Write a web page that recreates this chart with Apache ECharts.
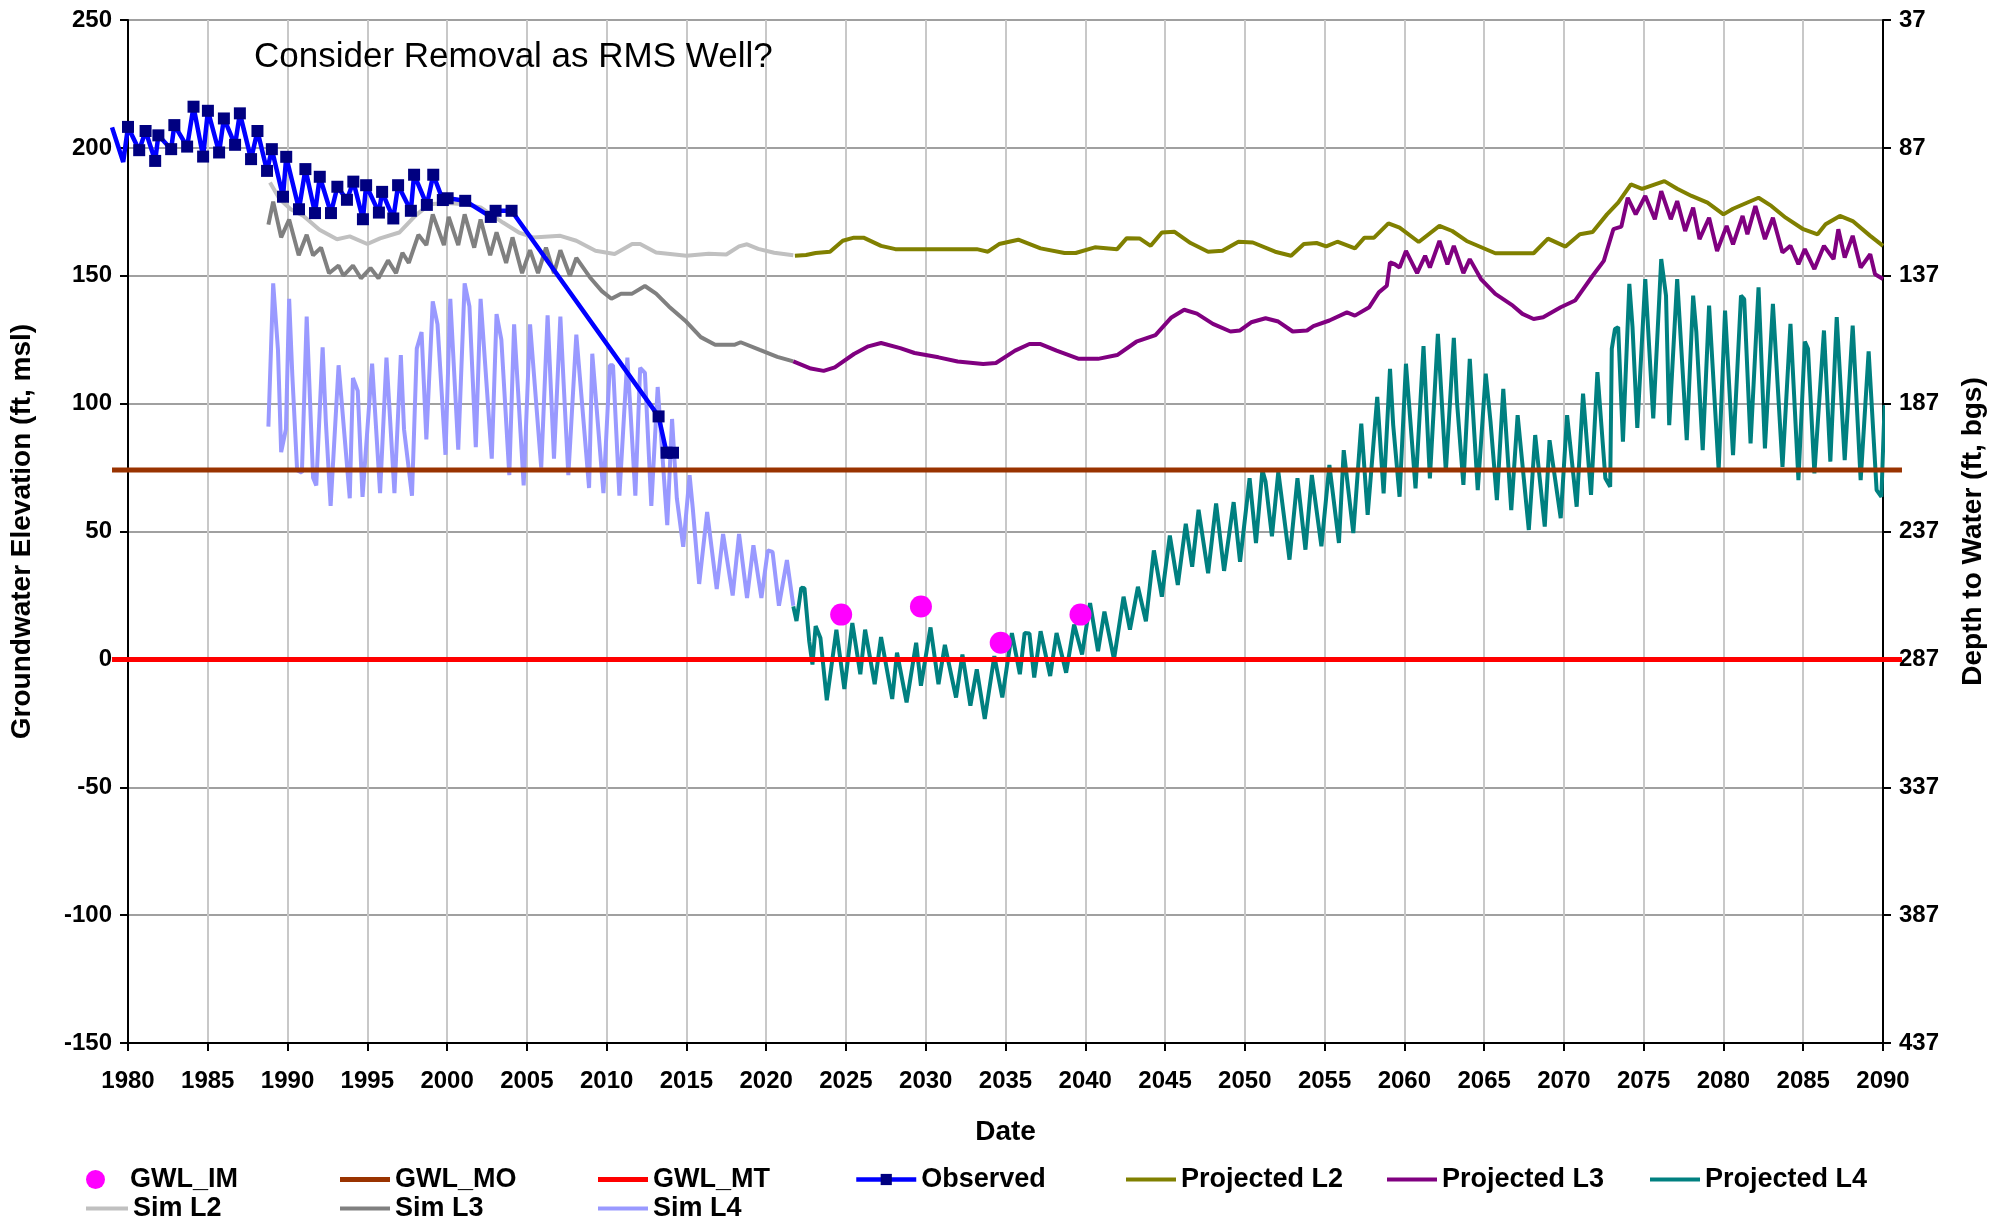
<!DOCTYPE html>
<html>
<head>
<meta charset="utf-8">
<title>Consider Removal as RMS Well?</title>
<script src="https://cdn.jsdelivr.net/npm/echarts@6/dist/echarts.min.js"></script>
<style>
  html, body { margin: 0; padding: 0; background: #fff; }
  #chart { width: 1995px; height: 1219px; }
</style>
</head>
<body>
<div id="chart"></div>
<script>
// ---- data: [year, elevation ft msl] ----
var gwlIM = [[2024.7, 17.5], [2029.7, 20.7], [2034.7, 6.5], [2039.7, 17.5]];
var gwlMO = [[1979, 74], [2091, 74]];
var gwlMT = [[1979, 0], [2091, 0]];

var observed = [
  [1979.0, 208], [1979.7, 194.5], [1980.0, 208.2], [1980.7, 199.1], [1981.1, 206.6], [1981.7, 194.9],
  [1981.9, 204.9], [1982.7, 199.5], [1982.9, 208.9], [1983.7, 200.5], [1984.1, 216.1], [1984.7, 196.6],
  [1985.0, 214.5], [1985.7, 198.2], [1986.0, 211.5], [1986.7, 201.2], [1987.0, 213.5], [1987.7, 195.6],
  [1988.1, 206.6], [1988.7, 191.0], [1989.0, 199.5], [1989.7, 180.9], [1989.9, 196.5], [1990.7, 176.0],
  [1991.1, 191.7], [1991.7, 174.5], [1992.0, 188.7], [1992.7, 174.5], [1993.1, 184.8], [1993.7, 179.7],
  [1994.1, 186.8], [1994.7, 172.1], [1994.9, 185.4], [1995.7, 174.7], [1995.9, 182.8], [1996.6, 172.4],
  [1996.9, 185.4], [1997.7, 175.4], [1997.9, 189.5], [1998.7, 177.7], [1999.1, 189.5], [1999.7, 179.6],
  [2000.0, 180.3], [2001.1, 179.3], [2002.7, 173.0], [2003.0, 175.4], [2004.0, 175.4], [2013.2, 95.0],
  [2013.7, 80.8], [2014.1, 80.8]
];

var simL2 = [
  [1988.9, 186.5], [1989.5, 180], [1990.2, 176], [1991.0, 173.4], [1992.0, 168], [1993.1, 164.3],
  [1993.9, 165.4], [1995.0, 162.4], [1995.8, 164.6], [1997.0, 166.9], [1998.0, 173.4], [1998.9, 178],
  [2000.0, 178.4], [2001.1, 178], [2002.1, 176.7], [2003.5, 170.8], [2004.5, 166.9], [2005.4, 165],
  [2007.1, 165.6], [2008.1, 163.7], [2009.3, 159.8], [2010.5, 158.5], [2011.6, 162.4], [2012.1, 162.4],
  [2013.1, 159.1], [2015.0, 157.8], [2016.4, 158.6], [2017.5, 158.3], [2018.3, 161.5], [2018.8, 162.3],
  [2019.5, 160.5], [2020.5, 159], [2021.7, 158]
];

var simL3 = [
  [1988.8, 170], [1989.1, 179], [1989.6, 165], [1990.1, 172], [1990.7, 158], [1991.2, 166],
  [1991.6, 158], [1992.1, 161], [1992.6, 151], [1993.2, 154], [1993.5, 150], [1994.1, 154],
  [1994.6, 149], [1995.2, 153], [1995.7, 149], [1996.3, 156], [1996.8, 151], [1997.2, 159],
  [1997.6, 155], [1998.2, 166], [1998.7, 162], [1999.1, 174], [1999.8, 162], [2000.1, 173],
  [2000.7, 162], [2001.1, 174], [2001.7, 161], [2002.1, 172], [2002.7, 158], [2003.1, 167],
  [2003.7, 155], [2004.1, 165], [2004.7, 151], [2005.2, 160], [2005.7, 151], [2006.2, 161],
  [2006.7, 151], [2007.1, 160], [2007.7, 150], [2008.1, 157], [2009.0, 149], [2009.7, 144],
  [2010.3, 141], [2010.9, 143], [2011.6, 143], [2012.4, 146], [2013.1, 143], [2013.9, 138],
  [2015.0, 132], [2015.9, 126], [2016.8, 123], [2018.0, 123], [2018.4, 124], [2019.6, 121],
  [2020.7, 118.3], [2021.7, 116.5]
];

var simL4 = [
  [1988.8, 91], [1989.1, 147], [1989.4, 121], [1989.6, 81], [1989.9, 90], [1990.1, 141],
  [1990.3, 111], [1990.6, 74], [1990.9, 73], [1991.2, 134], [1991.6, 71], [1991.8, 68],
  [1992.2, 122], [1992.4, 93], [1992.7, 60], [1993.2, 115], [1993.9, 63], [1994.1, 110],
  [1994.4, 105], [1994.7, 63.5], [1995.3, 115.6], [1995.8, 65], [1996.2, 118], [1996.7, 65],
  [1997.1, 119], [1997.3, 90], [1997.8, 64], [1998.1, 121.5], [1998.4, 128], [1998.7, 86],
  [1999.1, 140], [1999.4, 131], [1999.9, 80], [2000.2, 141], [2000.7, 82], [2001.1, 147],
  [2001.4, 138], [2001.8, 83], [2002.1, 141], [2002.8, 78.5], [2003.1, 135], [2003.4, 125],
  [2003.9, 72], [2004.2, 131], [2004.8, 68], [2005.2, 131], [2005.9, 75], [2006.3, 134.5],
  [2006.7, 78.5], [2007.1, 134], [2007.3, 108.5], [2007.6, 72], [2008.1, 127], [2008.9, 67],
  [2009.1, 119.5], [2009.8, 65], [2010.2, 115], [2010.4, 115], [2010.8, 64], [2011.3, 118],
  [2011.8, 64], [2012.1, 114], [2012.4, 112], [2012.8, 60], [2013.2, 106.5], [2013.8, 52.5],
  [2014.1, 94], [2014.4, 63], [2014.8, 44], [2015.2, 72], [2015.4, 59], [2015.8, 29.5],
  [2016.3, 57.6], [2016.9, 27.5], [2017.3, 49], [2017.9, 25], [2018.3, 49], [2018.8, 24],
  [2019.2, 44.6], [2019.7, 24], [2020.1, 42.6], [2020.4, 42], [2020.8, 21], [2021.3, 38.8],
  [2021.7, 21]
];

var projL2 = [
  [2021.8, 157.8], [2022.5, 158.1], [2023.1, 158.9], [2024.0, 159.4], [2024.8, 163.7], [2025.5, 164.9],
  [2026.1, 164.9], [2027.2, 161.7], [2028.1, 160.4], [2030.3, 160.4], [2033.2, 160.4], [2033.9, 159.4],
  [2034.6, 162.4], [2035.8, 164.1], [2037.2, 160.7], [2038.7, 158.9], [2039.4, 158.9], [2040.6, 161.1],
  [2042.0, 160.4], [2042.6, 164.7], [2043.4, 164.6], [2044.1, 161.7], [2044.8, 166.9], [2045.6, 167.2],
  [2046.6, 162.8], [2047.7, 159.4], [2048.6, 159.8], [2049.6, 163.3], [2050.5, 163], [2051.9, 159.4],
  [2052.9, 157.8], [2053.7, 162.4], [2054.5, 162.8], [2055.1, 161.5], [2055.8, 163.3], [2056.9, 160.7],
  [2057.5, 164.9], [2058.1, 164.9], [2059.0, 170.5], [2059.7, 168.8], [2060.9, 163.2], [2062.2, 169.5],
  [2063.0, 167.5], [2063.9, 163.6], [2065.7, 158.8], [2068.1, 158.8], [2069.0, 164.5], [2070.1, 161.4],
  [2071.0, 166.2], [2071.8, 167.1], [2072.7, 174], [2073.4, 178.6], [2074.2, 185.7], [2074.9, 184],
  [2076.3, 187], [2077.1, 184], [2078.0, 181.2], [2079.0, 178.6], [2080.0, 174], [2080.6, 176.2],
  [2082.2, 180.5], [2083.0, 177.3], [2083.9, 172.7], [2085.0, 168.2], [2085.9, 166.2], [2086.4, 170.1],
  [2087.3, 173.4], [2088.1, 171.4], [2089.2, 165.6], [2090.0, 161.7]
];

var projL3 = [
  [2021.7, 116.5], [2022.8, 113.7], [2023.6, 112.8], [2024.3, 114.2], [2025.5, 119.4], [2026.4, 122.4],
  [2027.2, 123.7], [2028.4, 121.7], [2029.3, 119.8], [2030.8, 118.1], [2032.0, 116.5], [2033.6, 115.5],
  [2034.4, 115.9], [2035.6, 120.7], [2036.5, 123.3], [2037.2, 123.3], [2038.2, 120.7], [2039.6, 117.5],
  [2040.8, 117.5], [2042.0, 119], [2043.2, 124.2], [2044.4, 126.8], [2045.4, 133.7], [2046.2, 136.7],
  [2047.0, 135.2], [2048.0, 131.2], [2049.1, 128.2], [2049.7, 128.6], [2050.4, 131.8], [2051.3, 133.4],
  [2052.1, 132.1], [2053.0, 128.2], [2053.9, 128.6], [2054.3, 130.3], [2055.3, 132.5], [2056.4, 135.7],
  [2056.9, 134.4], [2057.8, 137.7], [2058.4, 143.5], [2058.9, 146.1], [2059.1, 155.2], [2059.4, 154.5],
  [2059.7, 153.2], [2060.1, 159.7], [2060.8, 151], [2061.3, 157.8], [2061.6, 153.2], [2062.2, 163.6],
  [2062.7, 154.5], [2063.1, 161.7], [2063.7, 151], [2064.1, 156.5], [2064.8, 148.7], [2065.7, 142.9],
  [2066.8, 138.3], [2067.4, 135.1], [2068.1, 133.1], [2068.7, 133.8], [2069.8, 137.7], [2070.7, 140.3],
  [2071.8, 150], [2072.5, 155.8], [2073.1, 168.2], [2073.6, 169.2], [2074.0, 180.5], [2074.5, 174],
  [2075.1, 181.2], [2075.7, 172.1], [2076.1, 183.1], [2076.7, 172.1], [2077.1, 179.2], [2077.6, 167.5],
  [2078.1, 176.6], [2078.5, 164.3], [2079.1, 172.7], [2079.6, 159.7], [2080.2, 169.5], [2080.6, 162.3],
  [2081.2, 173.4], [2081.5, 166.2], [2082.0, 177.3], [2082.6, 164.3], [2083.1, 172.7], [2083.7, 159.1],
  [2084.2, 161.7], [2084.7, 154.5], [2085.1, 160.4], [2085.7, 152.6], [2086.3, 161.7], [2086.9, 156.5],
  [2087.2, 168.2], [2087.6, 157.1], [2088.1, 165.6], [2088.6, 153.2], [2089.2, 158.4], [2089.5, 150.6],
  [2090.0, 148.7]
];

var projL4 = [
  [2021.7, 20.7], [2021.9, 15], [2022.2, 28], [2022.4, 27.8], [2022.7, 7], [2022.9, -2],
  [2023.1, 13], [2023.4, 8.4], [2023.8, -16], [2024.4, 11.6], [2024.9, -11.6], [2025.4, 14.2],
  [2025.9, -5.8], [2026.2, 11.6], [2026.8, -9.7], [2027.2, 8.7], [2027.9, -15.5], [2028.2, 2.6],
  [2028.8, -16.8], [2029.4, 6.5], [2029.7, -10.3], [2030.3, 12.5], [2030.8, -9.7], [2031.2, 5.7],
  [2031.9, -14.9], [2032.3, 1.9], [2032.8, -18.1], [2033.2, -3.9], [2033.7, -23.3], [2034.3, 1.3],
  [2034.8, -14.9], [2035.4, 10.3], [2035.9, -5.8], [2036.2, 10.3], [2036.5, 10.1], [2036.8, -7.1],
  [2037.2, 11], [2037.8, -6.5], [2038.2, 10.3], [2038.8, -5.2], [2039.3, 13.6], [2039.8, 1.9],
  [2040.3, 22], [2040.8, 3.2], [2041.2, 18.7], [2041.8, 0], [2042.4, 24.5], [2042.8, 11.6],
  [2043.3, 28.4], [2043.8, 14.9], [2044.3, 42.6], [2044.8, 24.5], [2045.3, 48.4], [2045.8, 29.1],
  [2046.3, 53], [2046.7, 36.2], [2047.1, 58.5], [2047.7, 33.7], [2048.2, 61], [2048.7, 34.6],
  [2049.3, 61.5], [2049.7, 38.2], [2050.3, 70.8], [2050.7, 45.5], [2051.1, 74], [2051.3, 69.5],
  [2051.7, 48.1], [2052.1, 73.4], [2052.8, 39], [2053.3, 70.8], [2053.8, 42.9], [2054.2, 72.1],
  [2054.8, 44.2], [2055.3, 76], [2055.9, 45.5], [2056.2, 81.8], [2056.8, 49.4], [2057.3, 92.2],
  [2057.7, 56.5], [2058.3, 102.6], [2058.7, 64.9], [2059.1, 113.6], [2059.3, 91.6], [2059.7, 63.6],
  [2060.1, 115.6], [2060.7, 66.9], [2061.2, 122.5], [2061.6, 70.8], [2062.1, 127.3], [2062.6, 73.4],
  [2063.1, 125.7], [2063.3, 100.6], [2063.7, 68.2], [2064.1, 117.5], [2064.6, 66.2], [2065.1, 111.7],
  [2065.4, 92.9], [2065.8, 62.3], [2066.2, 105.8], [2066.7, 58.4], [2067.1, 95.5], [2067.8, 50.6],
  [2068.2, 87.7], [2068.8, 51.9], [2069.1, 85.7], [2069.8, 55.2], [2070.2, 95.5], [2070.8, 59.7],
  [2071.2, 103.9], [2071.7, 64.3], [2072.1, 112.3], [2072.6, 70.8], [2072.9, 67.5], [2073.0, 121.4],
  [2073.2, 129.2], [2073.4, 129.9], [2073.7, 85.1], [2074.1, 146.8], [2074.3, 129.9], [2074.6, 90.5],
  [2075.1, 148.7], [2075.6, 94.2], [2076.1, 156.5], [2076.4, 142.2], [2076.6, 91.6], [2077.1, 148.7],
  [2077.7, 85.7], [2078.1, 142.2], [2078.3, 127.9], [2078.7, 81.8], [2079.1, 138.3], [2079.7, 74],
  [2080.1, 136.4], [2080.6, 79.9], [2081.1, 142.2], [2081.3, 140.9], [2081.7, 84.4], [2082.2, 145.5],
  [2082.6, 82.5], [2083.1, 139], [2083.7, 75.3], [2084.2, 131.2], [2084.7, 70.1], [2085.1, 124.3],
  [2085.3, 121.4], [2085.7, 72.7], [2086.3, 128.6], [2086.7, 77.3], [2087.1, 133.8], [2087.6, 77.9],
  [2088.1, 130.5], [2088.6, 70.1], [2089.1, 120.4], [2089.6, 66.2], [2089.9, 63.6], [2090.1, 99.4]
];

// axis ranges
var yearMin = 1980, yearMax = 2090, yearStep = 5;
var elevMin = -150, elevMax = 250, elevStep = 50;
var depthMin = 37, depthMax = 437, depthStep = 50;
// the threshold lines and the observed record overhang the plot by about a year
var overMin = 1979, overMax = 2091;

(function () {
    var myChart = echarts.init(document.getElementById('chart'));
    var font = 'Liberation Sans, Arial, Helvetica, sans-serif';

    // plot box
    var gLeft = 128, gRight = 109, gTop = 20, gBottom = 176;
    var pxPerYear = (1995 - gLeft - gRight) / (yearMax - yearMin);

    // one line series helper
    function lineSeries(name, data, color, width, z, over) {
        return {
            name: name,
            type: 'line',
            data: data,
            showSymbol: false,
            symbol: 'none',
            xAxisIndex: over ? 1 : 0,
            yAxisIndex: over ? 2 : 0,
            z: z,
            lineStyle: { color: color, width: width },
            itemStyle: { color: color }
        };
    }

    // legend slots: name, left, top, icon width, icon thickness
    var row1 = 1166, row2 = 1195;
    var legendSlots = [
        ['GWL_MO', 340, row1, 50, 5], ['GWL_MT', 598, row1, 50, 5],
        ['Projected L2', 1126, row1, 50, 4], ['Projected L3', 1387, row1, 50, 4], ['Projected L4', 1650, row1, 50, 4],
        ['Sim L2', 86, row2, 42, 4], ['Sim L3', 340, row2, 50, 4], ['Sim L4', 598, row2, 50, 4]
    ];
    var legendText = { fontSize: 27, fontWeight: 'bold', color: '#000', fontFamily: font, lineHeight: 26 };
    var legends = legendSlots.map(function (s) {
        return {
            data: [{ name: s[0], icon: 'rect' }], left: s[1], top: s[2], padding: 0,
            itemWidth: s[3], itemHeight: s[4], textStyle: legendText
        };
    });
    // observed keeps the line + square icon
    legends.push({
        data: ['Observed'], left: 854, top: row1, padding: 0,
        itemWidth: 60, itemHeight: 14, textStyle: legendText,
        lineStyle: { width: 4.5 }
    });
    // magenta dot sits centred, text starts further right
    legends.unshift({
        data: ['GWL_IM'], left: 86, top: row1, padding: 0, itemWidth: 19, itemHeight: 19,
        textStyle: echarts.util.extend({ padding: [0, 0, 0, 20] }, legendText)
    });

    var tickFont = { fontSize: 24, fontWeight: 'bold', color: '#000', fontFamily: font };
    var nameFont = { fontSize: 28, fontWeight: 'bold', color: '#000', fontFamily: font };

    var option = {
        animation: false,
        backgroundColor: '#fff',
        title: {
            text: 'Consider Removal as RMS Well?',
            left: 249, top: 35,
            textStyle: { fontSize: 35, fontWeight: 'normal', color: '#000', fontFamily: font }
        },
        legend: legends,
        grid: [
            { left: gLeft, right: gRight, top: gTop, bottom: gBottom },
            // same scale, widened by the overhang so those lines are not cut at the axes
            {
                left: gLeft - (yearMin - overMin) * pxPerYear,
                right: gRight - (overMax - yearMax) * pxPerYear,
                top: gTop, bottom: gBottom
            }
        ],
        xAxis: [
            {
                type: 'value', gridIndex: 0,
                min: yearMin, max: yearMax, interval: yearStep,
                name: 'Date', nameLocation: 'middle', nameGap: 75,
                nameTextStyle: nameFont,
                axisLine: { onZero: false, lineStyle: { color: '#000', width: 2 } },
                axisTick: { length: 8, lineStyle: { color: '#000', width: 2 } },
                axisLabel: echarts.util.extend({
                    margin: 26,
                    formatter: function (v) { return String(v); }
                }, tickFont),
                splitLine: { show: true, lineStyle: { color: '#c8c8c8', width: 2 } }
            },
            { type: 'value', gridIndex: 1, min: overMin, max: overMax, show: false }
        ],
        yAxis: [
            {
                type: 'value', gridIndex: 0,
                min: elevMin, max: elevMax, interval: elevStep,
                name: 'Groundwater Elevation (ft, msl)', nameLocation: 'middle', nameGap: 92,
                nameTextStyle: nameFont,
                axisLine: { show: true, lineStyle: { color: '#000', width: 2 } },
                axisTick: { show: true, length: 8, lineStyle: { color: '#000', width: 2 } },
                axisLabel: echarts.util.extend({ margin: 16 }, tickFont),
                splitLine: { show: true, lineStyle: { color: '#a0a0a0', width: 2 } }
            },
            {
                type: 'value', gridIndex: 0,
                position: 'right',
                inverse: true,
                min: depthMin, max: depthMax, interval: depthStep,
                name: 'Depth to Water (ft, bgs)', nameLocation: 'middle', nameGap: 76,
                nameTextStyle: nameFont,
                axisLine: { show: true, lineStyle: { color: '#000', width: 2 } },
                axisTick: { show: true, length: 8, lineStyle: { color: '#000', width: 2 } },
                axisLabel: echarts.util.extend({ margin: 16 }, tickFont),
                splitLine: { show: false }
            },
            { type: 'value', gridIndex: 1, min: elevMin, max: elevMax, show: false }
        ],
        series: [
            lineSeries('Sim L2', simL2, '#c0c0c0', 4, 2),
            lineSeries('Sim L3', simL3, '#808080', 4, 2),
            lineSeries('Sim L4', simL4, '#9999ff', 4, 2),
            lineSeries('Projected L2', projL2, '#808000', 4, 2),
            lineSeries('Projected L3', projL3, '#800080', 4, 2),
            lineSeries('Projected L4', projL4, '#008080', 4, 2),
            lineSeries('GWL_MT', gwlMT, '#ff0000', 5, 3, true),
            lineSeries('GWL_MO', gwlMO, '#993300', 5, 3, true),
            {
                name: 'Observed',
                type: 'line',
                xAxisIndex: 1,
                yAxisIndex: 2,
                z: 4,
                symbol: 'rect',
                symbolSize: 12,
                // the line starts a little before 1980 without markers
                data: observed.map(function (p) {
                    return p[0] < yearMin ? { value: p, symbol: 'none' } : p;
                }),
                lineStyle: { color: '#0000ff', width: 4.5 },
                itemStyle: { color: '#000080', borderWidth: 0 }
            },
            {
                name: 'GWL_IM',
                type: 'scatter',
                z: 5,
                symbol: 'circle',
                symbolSize: 22,
                data: gwlIM,
                itemStyle: { color: '#ff00ff', opacity: 1 }
            }
        ]
    };
    myChart.setOption(option);
    window.addEventListener('resize', function () {
        myChart.resize();
    });
})();
</script>
</body>
</html>
